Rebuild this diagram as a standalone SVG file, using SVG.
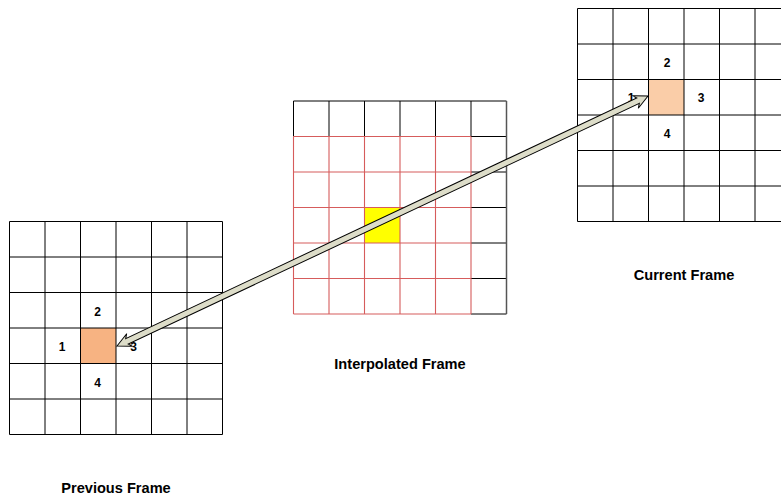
<svg xmlns="http://www.w3.org/2000/svg" width="781" height="496" viewBox="0 0 781 496">
<style>
.bg{fill:#ffffff}
.grid{fill:none;stroke:#000;stroke-width:1}
.red{fill:none;stroke:#D65C5C;stroke-width:1.1}
.num{font-family:"Liberation Sans",Arial,sans-serif;font-weight:bold;font-size:12px;fill:#000;text-anchor:middle}
.title{font-family:"Liberation Sans",Arial,sans-serif;font-weight:bold;font-size:14.6px;fill:#000;text-anchor:middle}
.arrow{fill:#DDDDC9;stroke:#000;stroke-width:1;stroke-linejoin:miter}
</style>
<rect class="bg" x="0" y="0" width="781" height="496"/>

<g id="previous-frame">
  <rect x="80.5" y="328" width="35.5" height="35.5" fill="#F7B382"/>
  <path class="grid" d="M9.5,221.5V434.5M45,221.5V434.5M80.5,221.5V434.5M116,221.5V434.5M151.5,221.5V434.5M187,221.5V434.5M222.5,221.5V434.5
  M9.5,221.5H222.5M9.5,257H222.5M9.5,292.5H222.5M9.5,328H222.5M9.5,363.5H222.5M9.5,399H222.5M9.5,434.5H222.5"/>
  <text class="num" x="97.5" y="315.5">2</text>
  <text class="num" x="62" y="350.5">1</text>
  <text class="num" x="133.5" y="350.5">3</text>
  <text class="num" x="97.5" y="386.5">4</text>
  <text class="title" x="116" y="493">Previous Frame</text>
</g>

<g id="interpolated-frame">
  <rect x="364.5" y="207.5" width="35.5" height="35.5" fill="#FFFF00"/>
  <path class="grid" d="M293.5,101V136.5M329,101V136.5M364.5,101V136.5M400,101V136.5M435.5,101V136.5M471,101V136.5
  M293.5,101H506.5M471,136.5H506.5M471,172H506.5M471,207.5H506.5M471,243H506.5M471,278.5H506.5M471,314H506.5"/>
  <path d="M506.5,101V314" fill="none" stroke="#555" stroke-width="1.5"/>
  <path class="red" d="M293.5,136.5V314M329,136.5V314M364.5,136.5V314M400,136.5V314M435.5,136.5V314M471,136.5V314
  M293.5,136.5H471M293.5,172H471M293.5,207.5H471M293.5,243H471M293.5,278.5H471M293.5,314H471"/>
  <text class="title" x="400" y="369">Interpolated Frame</text>
</g>

<g id="current-frame">
  <rect x="648.5" y="79.5" width="35.5" height="35.5" fill="#FACDA8"/>
  <path class="grid" d="M577.5,8.5V221.5M613,8.5V221.5M648.5,8.5V221.5M684,8.5V221.5M719.5,8.5V221.5M755,8.5V221.5
  M577.5,8.5H790.5M577.5,44H790.5M577.5,79.5H790.5M577.5,115H790.5M577.5,150.5H790.5M577.5,186H790.5M577.5,221.5H790.5"/>
  <text class="num" x="667" y="66.5">2</text>
  <text class="num" x="631" y="102">1</text>
  <text class="num" x="701" y="102">3</text>
  <text class="num" x="667" y="137.5">4</text>
  <text class="title" x="684" y="280">Current Frame</text>
</g>

<g id="connectors">
  <g transform="translate(117,346) rotate(-25.21)">
    <polygon class="arrow" points="0,0 14,-7 11,-3 575.9,-3 572.9,-7 586.9,0 572.9,7 575.9,3 11,3 14,7"/>
  </g>
</g>
</svg>
